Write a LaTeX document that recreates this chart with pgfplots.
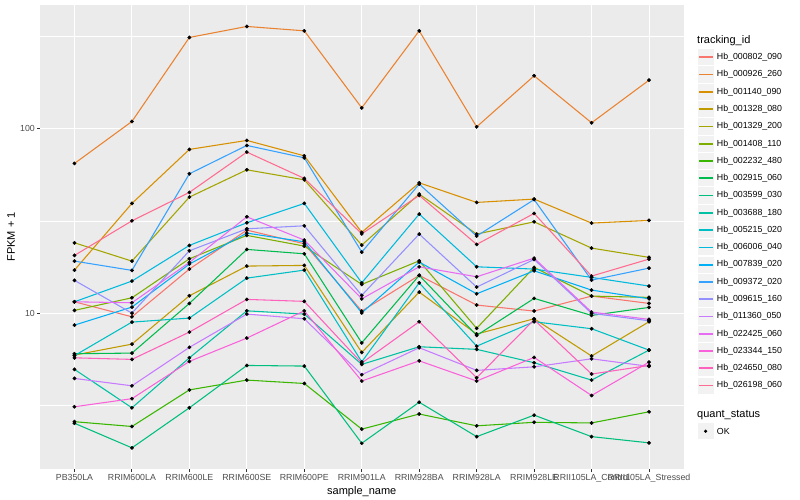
\documentclass[border=0pt]{standalone}
\usepackage{fontspec}
\setmainfont{Liberation Sans}
\usepackage{pgfplots}
\usepackage{pgfplotstable}
\pgfplotsset{compat=1.18}

\definecolor{panel}{HTML}{EBEBEB}
\definecolor{keygray}{HTML}{F2F2F2}
\definecolor{gray20}{HTML}{333333}
\definecolor{gray30}{HTML}{4D4D4D}
% ggplot hue palette, 20 levels
\definecolor{H000802}{HTML}{F8766D}
\definecolor{H000926}{HTML}{EA8331}
\definecolor{H001140}{HTML}{D89000}
\definecolor{H001328}{HTML}{C09B00}
\definecolor{H001329}{HTML}{A3A500}
\definecolor{H001408}{HTML}{7CAE00}
\definecolor{H002232}{HTML}{39B600}
\definecolor{H002915}{HTML}{00BB4E}
\definecolor{H003599}{HTML}{00BF7D}
\definecolor{H003688}{HTML}{00C1A3}
\definecolor{H005215}{HTML}{00BFC4}
\definecolor{H006006}{HTML}{00BADE}
\definecolor{H007839}{HTML}{00B0F6}
\definecolor{H009372}{HTML}{35A2FF}
\definecolor{H009615}{HTML}{9590FF}
\definecolor{H011360}{HTML}{C77CFF}
\definecolor{H022425}{HTML}{E76BF3}
\definecolor{H023344}{HTML}{FA62DB}
\definecolor{H024650}{HTML}{FF62BC}
\definecolor{H026198}{HTML}{FF6C91}

\newcommand\tickfont{\fontsize{8.8}{10}\selectfont}
\newcommand\titlefont{\fontsize{11}{13}\selectfont}

% FPKM + 1 per sample (x = sample index)
\pgfplotstableread{
x  H000802 H000926 H001140 H001328 H001329 H001408 H002232 H002915 H003599 H003688 H005215 H006006 H007839 H009372 H009615 H011360 H022425 H023344 H024650 H026198
0  11.54   64.7    17.13   5.94    24.07   10.37   2.59    6.04    2.54    4.97    5.90    11.54   8.63    19.16   15.07   4.44    11.54   3.12    5.74    20.57
1  9.57    109.2   39.33   6.81    19.16   12.13   2.44    6.09    1.87    3.08    8.96    14.94   10.80   17.07   10.02   4.05    11.40   3.45    5.63    31.66
2  17.35   311.1   77.09   12.44   42.54   19.72   3.85    11.31   3.08    5.74    9.42    23.30   18.46   56.88   21.79   6.54    18.85   5.49    7.91    45.11
3  28.2    356.8   86.22   18.01   59.77   26.40   4.35    22.17   5.22    10.31   15.50   30.89   27.16   80.99   28.66   9.90    33.28   7.34    11.89   74.54
4  23.78   337.8   71.17   18.16   52.77   23.10   4.17    20.99   5.18    9.90    17.13   39.33   24.37   69.41   29.75   9.34    24.89   10.31   11.60   53.70
5  10.28   129.4   27.41   6.14    23.39   14.33   2.36    6.92    1.98    5.29    5.46    14.62   10.06   21.44   12.50   4.65    11.98   4.30    5.38    26.93
6  16.04   337.8   50.84   13.02   44.16   19.23   2.85    16.04   3.30    6.59    14.62   34.42   18.93   50.02   26.83   6.51    17.85   5.53    9.00    43.45
7  11.08   102.1   39.82   7.72    26.83   8.29    2.46    7.59    2.15    6.38    6.64    17.85   12.75   26.17   13.86   4.91    15.76   4.30    4.48    23.59
8  10.28   192.9   41.50   9.34    31.26   17.72   2.57    12.04   2.81    5.40    9.00    17.35   16.98   41.24   19.57   5.13    19.89   5.77    9.22    34.72
9  12.39   107.4   30.77   5.87    22.53   12.39   2.55    9.74    2.15    4.35    8.25    15.64   13.35   15.12   9.99    5.67    10.15   3.59    4.69    15.90
10 11.31   182.7   31.82   9.00    20.07   12.19   2.93    10.76   1.99    6.32    6.32    14.04   11.98   17.56   9.11    5.16    9.27    5.44    5.22    19.65
}\fpkm

\begin{document}
\begin{tikzpicture}
\fill[white] (0,0) rectangle (800pt,500pt);
\path[use as bounding box] (0,0) rectangle (800pt,500pt);

\begin{axis}[
  at={(40pt,31.2pt)}, anchor=south west,
  scale only axis, width=643.5pt, height=463.6pt,
  xmin=-0.6, xmax=10.6,
  ymode=log, ymin=1.44, ymax=465,
  axis background/.style={fill=panel},
  axis line style={draw=none},
  xtick={0,...,10},
  xticklabels={PB350LA,RRIM600LA,RRIM600LE,RRIM600SE,RRIM600PE,RRIM901LA,RRIM928BA,RRIM928LA,RRIM928LE,RRII105LA\_Control,RRII105LA\_Stressed},
  ytick={10,100}, yticklabels={10,100},
  minor ytick={3.16228,31.6228,316.228},
  xmajorgrids, ymajorgrids, yminorgrids,
  major grid style={white, line width=1.07pt},
  minor grid style={white, line width=0.53pt},
  tick align=outside, xtick pos=bottom, ytick pos=left,
  major tick length=2.75pt, minor tick length=0pt,
  tick style={draw=gray20, line width=1.07pt},
  x tick label style={font=\tickfont, text=gray30, inner sep=0pt, anchor=north, yshift=-2.2pt},
  y tick label style={font=\tickfont, text=gray30, inner sep=0pt, anchor=east, xshift=-2.2pt},
  xlabel={sample\_name}, ylabel={FPKM + 1},
  label style={font=\titlefont, inner sep=0pt},
  xlabel style={at={(axis description cs:0.5,-0.055)}, anchor=base},
  ylabel style={at={(axis description cs:-0.0389,0.5)}, anchor=base},
]
\pgfplotsinvokeforeach{H000802,H000926,H001140,H001328,H001329,H001408,H002232,H002915,H003599,H003688,H005215,H006006,H007839,H009372,H009615,H011360,H022425,H023344,H024650,H026198}{
  \addplot[no markers, color=#1, line width=1.07pt] table[x=x, y=#1] {\fpkm};
}
\pgfplotsinvokeforeach{H000802,H000926,H001140,H001328,H001329,H001408,H002232,H002915,H003599,H003688,H005215,H006006,H007839,H009372,H009615,H011360,H022425,H023344,H024650,H026198}{
  \addplot[only marks, mark=*, mark size=1.7pt, black] table[x=x, y=#1] {\fpkm};
}
\end{axis}

% legend: tracking_id
\node[anchor=west, inner sep=0pt, font=\titlefont] at (697pt,459.3pt) {tracking\_id};
\foreach \col/\lab [count=\i from 0] in {
  H000802/Hb\_000802\_090, H000926/Hb\_000926\_260, H001140/Hb\_001140\_090,
  H001328/Hb\_001328\_080, H001329/Hb\_001329\_200, H001408/Hb\_001408\_110,
  H002232/Hb\_002232\_480, H002915/Hb\_002915\_060, H003599/Hb\_003599\_030,
  H003688/Hb\_003688\_180, H005215/Hb\_005215\_020, H006006/Hb\_006006\_040,
  H007839/Hb\_007839\_020, H009372/Hb\_009372\_020, H009615/Hb\_009615\_160,
  H011360/Hb\_011360\_050, H022425/Hb\_022425\_060, H023344/Hb\_023344\_150,
  H024650/Hb\_024650\_080, H026198/Hb\_026198\_060} {
  \pgfmathsetmacro\yy{442.7-17.28*\i}
  \fill[keygray] (697.5pt,\yy pt-8.1pt) rectangle (713.8pt,\yy pt+8.1pt);
  \fill[fill=\col] (698.7pt,\yy pt-0.85pt) rectangle (712.6pt,\yy pt+0.85pt);
  \node[anchor=west, inner sep=0pt, font=\tickfont] at (716.7pt,\yy pt) {\lab};
}

% legend: quant_status
\node[anchor=west, inner sep=0pt, font=\titlefont] at (697pt,84.5pt) {quant\_status};
\fill[keygray] (697.5pt,60.7pt) rectangle (713.8pt,76.9pt);
\fill[black] (705.6pt,68.8pt) circle (1.7pt);
\node[anchor=west, inner sep=0pt, font=\tickfont] at (716.7pt,68.8pt) {OK};
\end{tikzpicture}
\end{document}
